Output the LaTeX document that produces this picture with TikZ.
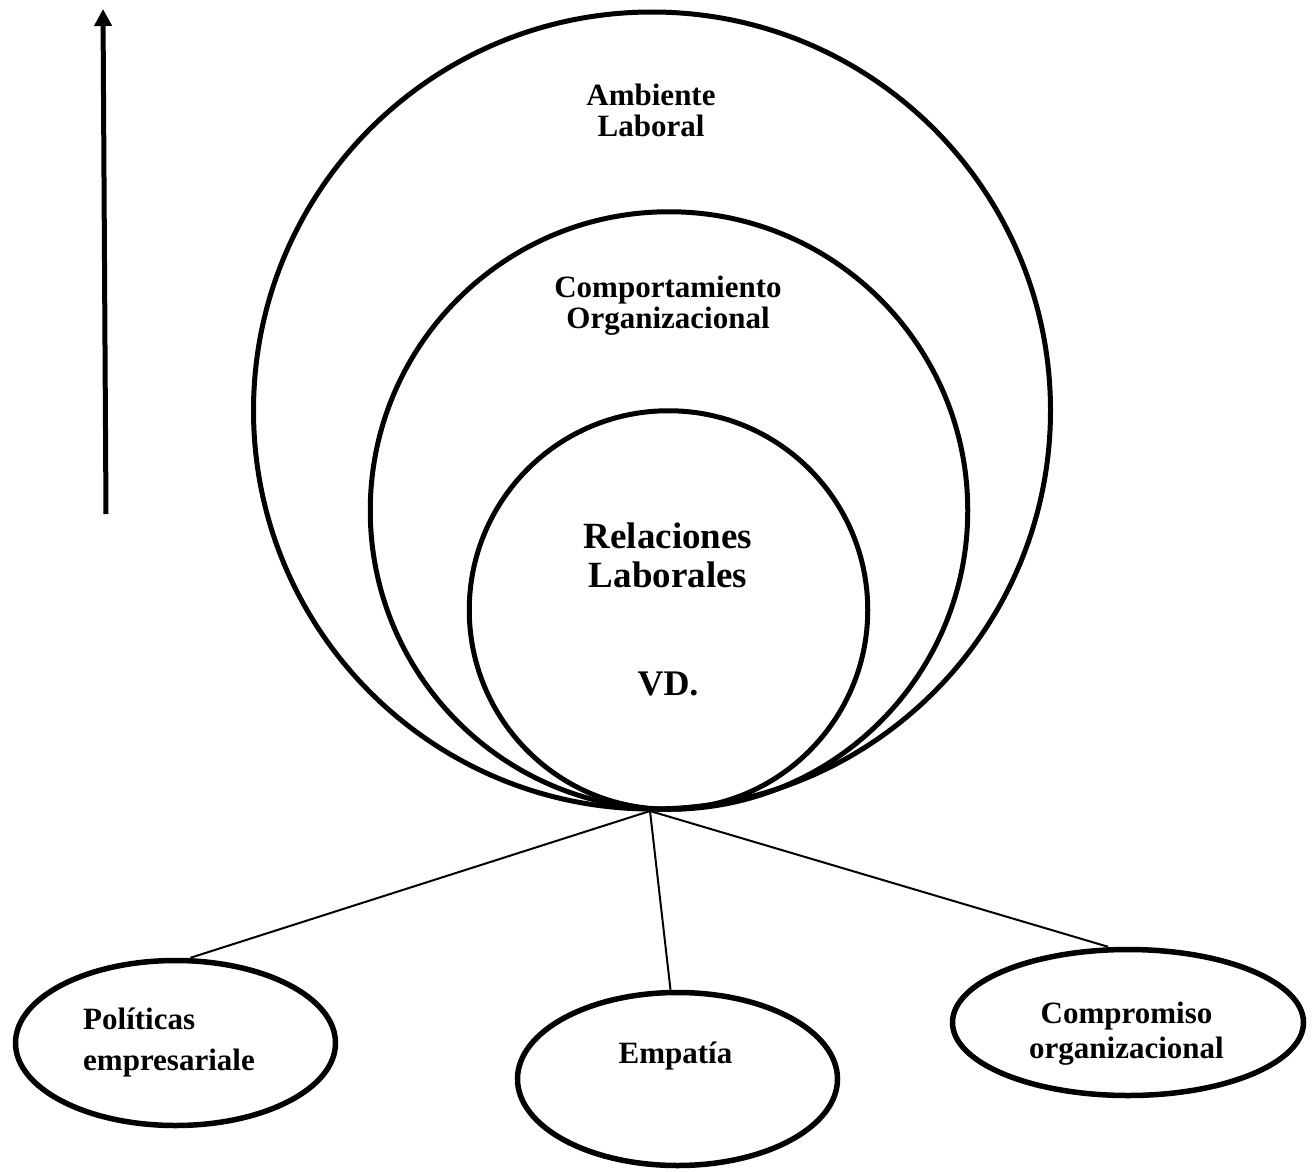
\documentclass[tikz,border=0pt]{standalone}
\usepackage{fontspec}
\setmainfont{Liberation Serif}
\usetikzlibrary{shapes.geometric,arrows.meta}
\setlength{\tabcolsep}{0pt}
\tikzset{
  ring/.style={circle, draw, line width=5pt, inner sep=0pt},
  oval/.style={ellipse, draw, line width=5.5pt, inner sep=0pt},
  link/.style={line width=2pt},
  lab/.style={inner sep=0pt, anchor=base},
  arrowline/.style={line width=5pt, -{Triangle[width=17pt,length=17pt]}}
}
\begin{document}
\begin{tikzpicture}[x=1pt,y=-1pt]
\useasboundingbox (0,0) rectangle (1315,1172);
% concentric circles
\node[ring, minimum size=797pt] (outer) at (652,410.5) {};
\node[ring, minimum size=597.5pt] (middle) at (669,510.5) {};
\node[ring, minimum size=398.5pt] (inner) at (668.5,610) {};
% labels in circles
\node[lab, font=\bfseries\fontsize{31}{32}\selectfont] (tAmb) at (651,105)
  {\begin{tabular}[t]{c}Ambiente\\Laboral\end{tabular}};
\node[lab, font=\bfseries\fontsize{31}{31}\selectfont] (tComp) at (668,297)
  {\begin{tabular}[t]{c}Comportamiento\\Organizacional\end{tabular}};
\node[lab, font=\bfseries\fontsize{37}{39}\selectfont] (tRel) at (668,548)
  {\begin{tabular}[t]{c}Relaciones\\Laborales\end{tabular}};
\node[lab, font=\bfseries\fontsize{36}{38}\selectfont] (tVD) at (668,695) {VD.};
% vertical arrow
\coordinate (aBot) at (106,514);
\coordinate (aTop) at (103,9);
\draw[arrowline] (aBot) -- (aTop);
% tangent point
\coordinate (tp) at (650,811);
% ellipses
\node[oval, minimum width=320pt, minimum height=165pt] (el1) at (175.5,1043) {};
\node[oval, minimum width=320pt, minimum height=173pt] (el2) at (677.5,1079) {};
\node[oval, minimum width=351pt, minimum height=146pt] (el3) at (1128,1022.5) {};
% ellipse labels
\node[inner sep=0pt, anchor=base west, font=\bfseries\fontsize{31}{41}\selectfont] (tPol) at (83,1029)
  {\begin{tabular}[t]{l}Políticas\\empresariale\end{tabular}};
\node[lab, font=\bfseries\fontsize{31}{32}\selectfont] (tEmp) at (675.5,1063) {Empatía};
\node[lab, font=\bfseries\fontsize{31}{35}\selectfont] (tCom) at (1126.5,1023)
  {\begin{tabular}[t]{c}Compromiso\\organizacional\end{tabular}};
% connectors
\draw[link] (tp) -- ([xshift=15pt]el1.north);
\draw[link] (tp) -- ([xshift=-7pt]el2.north);
\draw[link] (tp) -- ([xshift=-20pt]el3.north);
\end{tikzpicture}
\end{document}
